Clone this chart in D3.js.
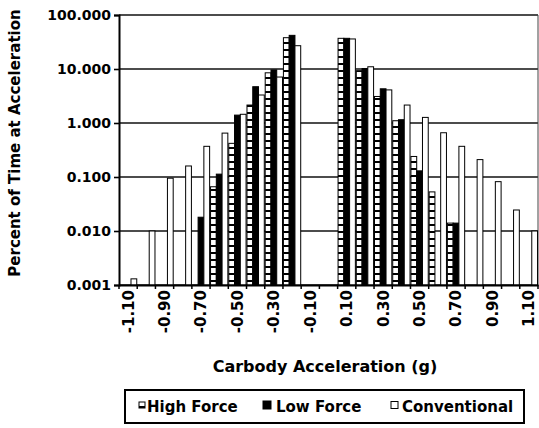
<!DOCTYPE html>
<html>
<head>
<meta charset="utf-8">
<script src="https://cdn.jsdelivr.net/npm/d3@7"></script>
<style>
  html, body { margin: 0; padding: 0; background: #fff; }
  svg { display: block; }
  text { font-family: "DejaVu Sans", "Liberation Sans", Arial, sans-serif; font-weight: bold; fill: #000; }
</style>
</head>
<body>
<svg id="chart" width="539" height="428"></svg>
<script>
// Acceleration bins (g)
const categories = ["-1.10","-1.00","-0.90","-0.80","-0.70","-0.60","-0.50","-0.40","-0.30","-0.20","-0.10",
                    "0.00","0.10","0.20","0.30","0.40","0.50","0.60","0.70","0.80","0.90","1.00","1.10"];
// Percent of time spent in each bin (null = no time recorded)
const highForce    = [null, null, null, null, null, 0.066, 0.42, 2.15, 8.5, 38, null, null, 37, 9.3, 3.1, 1.1, 0.24, 0.053, 0.014, null, null, null, null];
const lowForce     = [null, null, null, null, 0.018, 0.113, 1.4, 4.7, 9.6, 42, null, null, 37, 10.2, 4.3, 1.15, 0.13, null, 0.014, null, null, null, null];
const conventional = [0.0013, 0.010, 0.095, 0.16, 0.37, 0.65, 1.45, 3.3, 7.1, 27, null, null, 36, 11, 4.1, 2.15, 1.27, 0.66, 0.37, 0.21, 0.082, 0.0245, 0.010];
const seriesNames  = ["High Force", "Low Force", "Conventional"];
const yTickValues  = [0.001, 0.01, 0.1, 1, 10, 100];
const xTickLabels  = ["-1.10","-0.90","-0.70","-0.50","-0.30","-0.10","0.10","0.30","0.50","0.70","0.90","1.10"];

const seriesValues = { "High Force": highForce, "Low Force": lowForce, "Conventional": conventional };
const fills = { "High Force": "url(#hfPattern)", "Low Force": "#000", "Conventional": "#fff" };

const svg = d3.select("#chart");
const plot = { left: 119, right: 538, top: 15, bottom: 285 };

// dashed fill used for the High Force bars
const defs = svg.append("defs");
const pat = defs.append("pattern").attr("id", "hfPattern")
  .attr("patternUnits", "userSpaceOnUse").attr("width", 4).attr("height", 7);
pat.append("rect").attr("width", 4).attr("height", 7).attr("fill", "#fff");
pat.append("rect").attr("y", 0).attr("width", 4).attr("height", 2).attr("fill", "#000");

const x = d3.scaleBand().domain(categories).range([plot.left, plot.right]).paddingInner(0).paddingOuter(0);
const xs = d3.scaleBand().domain(seriesNames).range([0, x.bandwidth()]).paddingInner(0).paddingOuter(0.08);
const y = d3.scaleLog().domain([0.001, 100]).range([plot.bottom, plot.top]);

// horizontal gridlines at each decade
svg.append("g").selectAll("line").data(yTickValues).join("line")
  .attr("x1", plot.left).attr("x2", plot.right)
  .attr("y1", d => y(d)).attr("y2", d => y(d))
  .attr("stroke", "#111").attr("stroke-width", 1.6);

// right edge of the plot area
svg.append("line").attr("x1", plot.right).attr("x2", plot.right)
  .attr("y1", plot.top).attr("y2", plot.bottom).attr("stroke", "#444").attr("stroke-width", 1);

// bars
const rows = [];
categories.forEach((c, i) => {
  seriesNames.forEach(s => {
    const v = seriesValues[s][i];
    if (v != null) rows.push({ cat: c, series: s, value: v });
  });
});
svg.append("g").selectAll("rect").data(rows).join("rect")
  .attr("x", d => x(d.cat) + xs(d.series))
  .attr("width", xs.bandwidth())
  .attr("y", d => y(d.value))
  .attr("height", d => y(0.001) - y(d.value))
  .attr("fill", d => fills[d.series])
  .attr("stroke", "#000").attr("stroke-width", 1);

// y axis
const yAxis = svg.append("g").attr("transform", `translate(${plot.left},0)`)
  .call(d3.axisLeft(y).tickValues(yTickValues).tickFormat(d3.format(".3f")).tickSize(5).tickPadding(3));
yAxis.select(".domain").attr("stroke", "#000").attr("stroke-width", 2);
yAxis.selectAll(".tick line").attr("stroke", "#000").attr("stroke-width", 1.6);
yAxis.selectAll(".tick text").attr("font-size", 14).attr("font-family", null);

// x axis: labels on every other bin, tick marks on bin boundaries
const xAxis = svg.append("g").attr("transform", `translate(0,${plot.bottom})`)
  .call(d3.axisBottom(x).tickValues(xTickLabels).tickSize(0).tickSizeOuter(0));
xAxis.select(".domain").attr("stroke", "#000").attr("stroke-width", 2);
xAxis.selectAll(".tick text")
  .attr("font-size", 15).attr("font-family", null)
  .attr("transform", "rotate(-90)")
  .attr("text-anchor", "end")
  .attr("x", -5).attr("y", 0).attr("dy", "0.36em");

const bounds = categories.map(c => x(c)).concat([x(categories[categories.length - 1]) + x.bandwidth()]);
svg.append("g").selectAll("line").data(bounds).join("line")
  .attr("x1", d => d).attr("x2", d => d)
  .attr("y1", plot.bottom).attr("y2", plot.bottom + 4)
  .attr("stroke", "#000").attr("stroke-width", 1.5);

// axis titles
svg.append("text")
  .attr("transform", "translate(19.5,143) rotate(-90)")
  .attr("text-anchor", "middle").attr("font-size", 15)
  .text("Percent of Time at Acceleration");

svg.append("text")
  .attr("x", 325).attr("y", 372)
  .attr("text-anchor", "middle").attr("font-size", 16)
  .text("Carbody Acceleration (g)");

// legend
const legend = svg.append("g");
legend.append("rect").attr("x", 125).attr("y", 390).attr("width", 399).attr("height", 33)
  .attr("fill", "#fff").attr("stroke", "#000").attr("stroke-width", 2);
const legendItems = [
  { name: "High Force",   sx: 139, size: 6, tx: 147 },
  { name: "Low Force",    sx: 263, size: 8, tx: 276 },
  { name: "Conventional", sx: 391, size: 7, tx: 402 }
];
legendItems.forEach(it => {
  legend.append("rect").attr("x", it.sx).attr("y", 405 - it.size / 2).attr("width", it.size).attr("height", it.size)
    .attr("fill", fills[it.name]).attr("stroke", "#000").attr("stroke-width", 1);
  legend.append("text").attr("x", it.tx).attr("y", 412).attr("font-size", 15).text(it.name);
});
</script>
</body>
</html>
